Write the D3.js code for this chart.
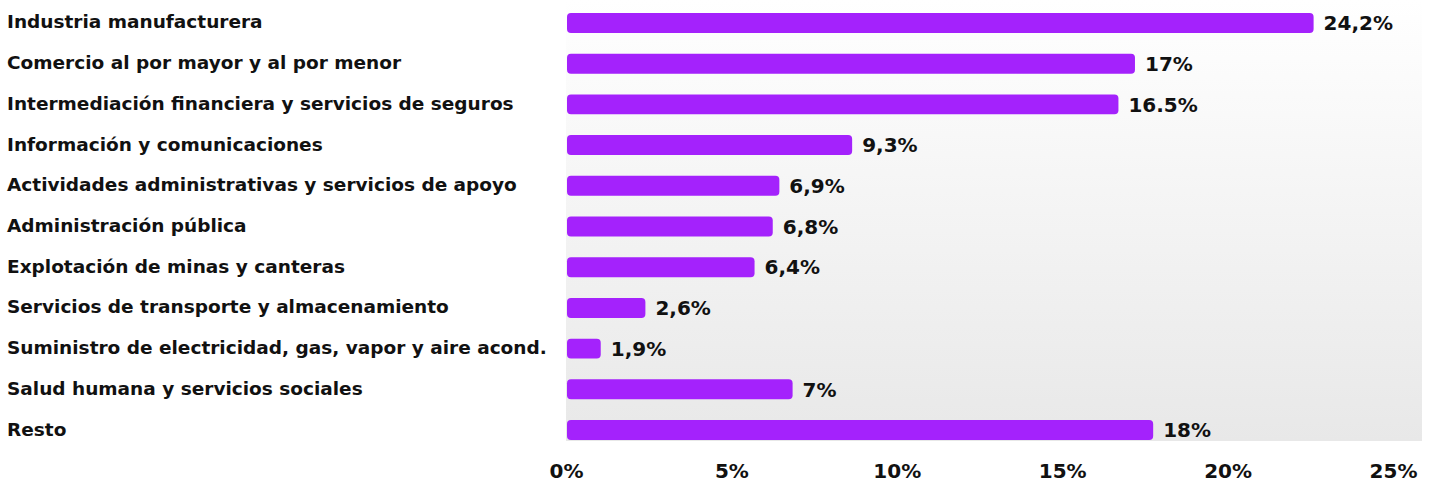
<!DOCTYPE html>
<html>
<head>
<meta charset="utf-8">
<script src="https://d3js.org/d3.v7.min.js"></script>
<style>
  body { margin: 0; background: #fff; }
  text { font-family: "DejaVu Sans", sans-serif; font-weight: 700; fill: #111; }
</style>
</head>
<body>
<svg width="1432" height="485"></svg>
<script>
var categories = [
  "Industria manufacturera",
  "Comercio al por mayor y al por menor",
  "Intermediación financiera y servicios de seguros",
  "Información y comunicaciones",
  "Actividades administrativas y servicios de apoyo",
  "Administración pública",
  "Explotación de minas y canteras",
  "Servicios de transporte y almacenamiento",
  "Suministro de electricidad, gas, vapor y aire acond.",
  "Salud humana y servicios sociales",
  "Resto"
];
// bar lengths as drawn in the picture (percent on the axis)
var barValues = [22.6, 17.2, 16.7, 8.65, 6.45, 6.25, 5.7, 2.4, 1.05, 6.85, 17.75];
// labels printed next to the bars
var valueLabels = ["24,2%", "17%", "16.5%", "9,3%", "6,9%", "6,8%", "6,4%", "2,6%", "1,9%", "7%", "18%"];
var ticks = [0, 5, 10, 15, 20, 25];

var svg = d3.select("svg");

var x = d3.scaleLinear().domain([0, 25]).range([566, 1393]);
var y = d3.scaleBand().domain(categories).range([13, 440]).paddingInner(0.51).paddingOuter(0);

// shaded plot background
var grad = svg.append("defs").append("linearGradient")
    .attr("id", "bg").attr("x1", 0).attr("y1", 0).attr("x2", 0).attr("y2", 1);
grad.append("stop").attr("offset", "0%").attr("stop-color", "#ffffff");
grad.append("stop").attr("offset", "100%").attr("stop-color", "#e8e8e8");

svg.append("rect")
    .attr("x", 566).attr("y", 0)
    .attr("width", 1422 - 566).attr("height", 441)
    .attr("fill", "url(#bg)");

// bars
svg.selectAll(".bar").data(categories).enter().append("rect")
    .attr("class", "bar")
    .attr("x", x(0) + 1)
    .attr("y", function(d) { return y(d); })
    .attr("width", function(d, i) { return x(barValues[i]) - x(0) - 1; })
    .attr("height", y.bandwidth())
    .attr("rx", 4)
    .attr("fill", "#a422fc");

// value labels
svg.selectAll(".val").data(categories).enter().append("text")
    .attr("class", "val")
    .text(function(d, i) { return valueLabels[i]; })
    .attr("x", function(d, i) { return x(barValues[i]) + 10; })
    .attr("y", function(d) { return y(d) + y.bandwidth() / 2; })
    .attr("dy", "0.36em")
    .style("font-size", "20px");

// category labels
svg.selectAll(".cat").data(categories).enter().append("text")
    .attr("class", "cat")
    .text(function(d) { return d; })
    .attr("x", 7)
    .attr("y", function(d) { return y(d) + y.bandwidth() / 2 - 1; })
    .attr("dy", "0.35em")
    .style("font-size", "18.5px");

// x axis (labels only)
var xaxis = d3.axisBottom(x).tickValues(ticks).tickSize(0).tickPadding(0)
    .tickFormat(function(d) { return d + "%"; });
var ax = svg.append("g").attr("transform", "translate(0,464)").call(xaxis);
ax.select(".domain").remove();
ax.selectAll("text")
    .style("font-family", "'DejaVu Sans', sans-serif")
    .style("font-weight", "700")
    .style("font-size", "20px")
    .attr("fill", "#111");
</script>
</body>
</html>
